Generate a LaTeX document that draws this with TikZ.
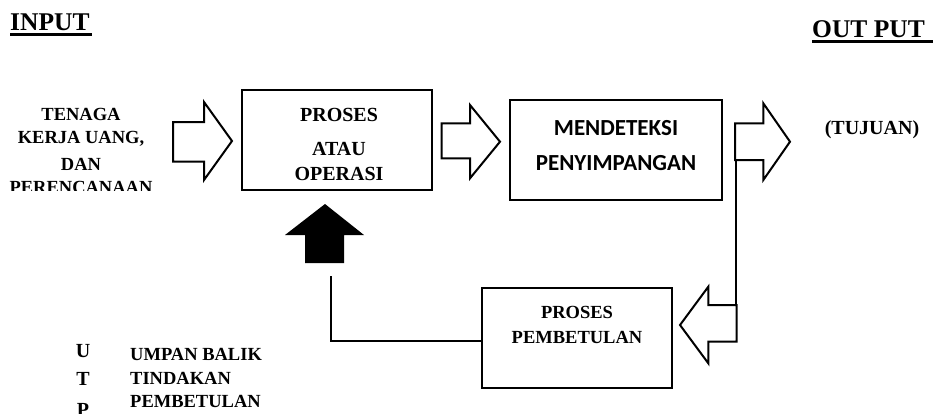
\documentclass[tikz,border=0pt]{standalone}
\usepackage{fontspec}
\setmainfont{Liberation Serif}
\newfontfamily\calibri{Carlito}
\begin{document}
\begin{tikzpicture}[x=1pt,y=-1pt,
  boxstyle/.style={draw, line width=2.5pt, inner sep=0pt, outer sep=0pt},
  hollow/.style={draw, line width=2pt, fill=white, line join=miter},
  thinline/.style={draw, line width=1.2pt},
  tx/.style={inner sep=0pt, anchor=base, font=\bfseries\fontsize{18.5}{22}\selectfont},
  big/.style={inner sep=0pt, anchor=base west, font=\bfseries\fontsize{25.5}{30}\selectfont},
]
\useasboundingbox (0,0) rectangle (933,413);

% headings
\node[big] (inp) at (10,30) {INPUT};
\draw[line width=3pt] (inp.base west) ++(0,4.5) -- ++(82,0);
\node[big] (outp) at (812,37) {OUT PUT};
\draw[line width=3pt] (outp.base west) ++(0,4.5) -- ++(121,0);

% left input text (clipped at the bottom)
\begin{scope}
\clip (0,0) rectangle (240,190);
\node[tx] (l1) at (81,120.5) {TENAGA};
\node[tx] (l2) at (81,143.5) {KERJA UANG,};
\node[tx] (l3) at (81,170) {DAN};
\node[tx] (l4) at (81,193) {PERENCANAAN};
\end{scope}

% boxes
\node[boxstyle, minimum width=190pt, minimum height=100pt] (op) at (337,140) {};
\node[boxstyle, minimum width=212pt, minimum height=100pt] (det) at (616,150) {};
\node[boxstyle, minimum width=190pt, minimum height=100pt] (fix) at (577,338) {};

% box texts
\node[tx, font=\bfseries\fontsize{20}{24}\selectfont] (op1) at (339,121.5) {PROSES};
\node[tx, font=\bfseries\fontsize{20}{24}\selectfont] (op2) at (339,155) {ATAU};
\node[tx, font=\bfseries\fontsize{20}{24}\selectfont] (op3) at (339,180) {OPERASI};
\node[tx, font=\calibri\bfseries\fontsize{23}{28}\selectfont] (d1) at (616,135) {MENDETEKSI};
\node[tx, font=\calibri\bfseries\fontsize{23}{28}\selectfont] (d2) at (616,170) {PENYIMPANGAN};
\node[tx] (f1) at (577,318) {PROSES};
\node[tx] (f2) at (577,343) {PEMBETULAN};
\node[tx, font=\bfseries\fontsize{20}{24}\selectfont] (goal) at (872,134.7) {(TUJUAN)};

% hollow block arrows
\draw[hollow] (173,122) -- (204,122) -- (204,102) -- (232,141) -- (204,180) -- (204,161.5) -- (173,161.5) -- cycle;
\draw[hollow] (441.7,123.3) -- (470,123.3) -- (470,105) -- (500,141.7) -- (470,178.3) -- (470,158.3) -- (441.7,158.3) -- cycle;
\draw[hollow] (735,123.3) -- (763.3,123.3) -- (763.3,103.3) -- (790,141.7) -- (763.3,180) -- (763.3,160) -- (735,160) -- cycle;
\draw[hollow] (736.7,305) -- (708.3,305) -- (708.3,286.7) -- (680,325) -- (708.3,363.3) -- (708.3,341.7) -- (736.7,341.7) -- cycle;

% black up arrow
\fill (325,204) -- (364,235) -- (344,235) -- (344,263) -- (305,263) -- (305,235) -- (285,235) -- cycle;

% feedback lines
\coordinate (a3) at (736,160);
\coordinate (a4) at (736,305);
\draw[thinline] (a3) -- (a4);
\coordinate (upend) at (331,276);
\draw[thinline] ([yshift=-3pt]fix.west) -| (upend);

% legend
\node[tx, font=\bfseries\fontsize{20}{24}\selectfont] (u) at (83,357) {U};
\node[tx, font=\bfseries\fontsize{20}{24}\selectfont] (t) at (83,385) {T};
\node[tx, font=\bfseries\fontsize{20}{24}\selectfont] (p) at (83,416) {P};
\node[tx, anchor=base west] (g1) at (130,360) {UMPAN BALIK};
\node[tx, anchor=base west] (g2) at (130,384) {TINDAKAN};
\node[tx, anchor=base west] (g3) at (130,407) {PEMBETULAN};
\end{tikzpicture}
\end{document}
